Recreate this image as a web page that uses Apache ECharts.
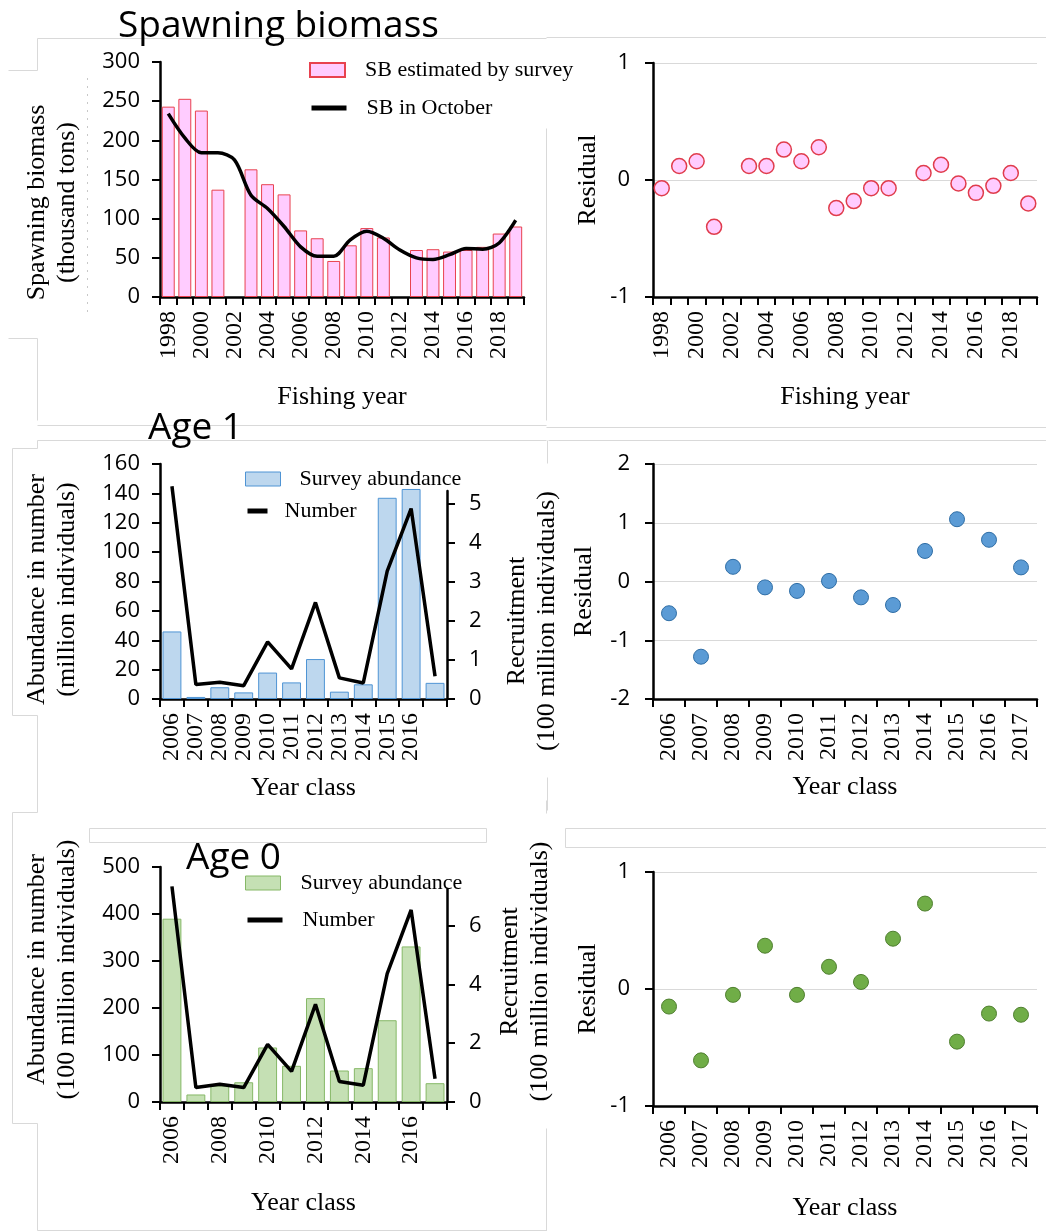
<!DOCTYPE html>
<html>
<head>
<meta charset="utf-8">
<title>Spawning biomass and recruitment indices</title>
<script src="https://cdn.jsdelivr.net/npm/echarts@6/dist/echarts.min.js"></script>
<style>
  html, body { margin: 0; padding: 0; background: #fff; }
  #chart { width: 1046px; height: 1231px; }
</style>
</head>
<body>
<div id="chart"></div>
<script>
// ---- data -------------------------------------------------------------
const fishingYears = ['1998','1999','2000','2001','2002','2003','2004','2005','2006','2007','2008',
  '2009','2010','2011','2012','2013','2014','2015','2016','2017','2018','2019'];
// spawning biomass (thousand tons)
const sbSurvey = [243, 253, 238, 137, null, 163, 144, 131, 85, 75, 46,
  66, 88, 76, null, 60, 61, 58, 60, 64, 81, 90];
const sbOctober = [234, 203, 184, 184, 175, 130, 113, 90, 64, 52, 52,
  73, 84, 75, 60, 50, 48, 54, 62, 61, 69, 98];
const sbResidual = [-0.07, 0.12, 0.16, -0.40, null, 0.12, 0.12, 0.26, 0.16, 0.28, -0.24,
  -0.18, -0.07, -0.07, null, 0.06, 0.13, -0.03, -0.11, -0.05, 0.06, -0.20];

const yearClasses = ['2006','2007','2008','2009','2010','2011','2012','2013','2014','2015','2016','2017'];
const age1TickLabels = ['2006','2007','2008','2009','2010','2011','2012','2013','2014','2015','2016',''];
// age 1: survey abundance (million individuals), recruitment (100 million individuals)
const age1Survey = [46, 1.4, 8, 4.5, 18, 11.3, 27.2, 5, 10, 137, 143, 11];
const age1Number = [5.44, 0.37, 0.43, 0.34, 1.46, 0.77, 2.47, 0.54, 0.41, 3.27, 4.87, 0.58];
const age1Residual = [-0.54, -1.28, 0.25, -0.10, -0.16, 0.01, -0.27, -0.40, 0.52, 1.06, 0.71, 0.24];
// age 0: survey abundance and recruitment (100 million individuals)
const age0Survey = [390, 16, 35, 42, 116, 77, 221, 67, 72, 174, 331, 40];
const age0Number = [7.33, 0.49, 0.60, 0.49, 1.96, 1.04, 3.32, 0.70, 0.57, 4.36, 6.53, 0.79];
const age0Residual = [-0.15, -0.61, -0.05, 0.37, -0.05, 0.19, 0.06, 0.43, 0.73, -0.45, -0.21, -0.22];

// ---- styling helpers ----------------------------------------------------
const SANS = "'Open Sans', 'Noto Sans', sans-serif";
const SERIF = "'Liberation Serif', 'DejaVu Serif', serif";
const AXIS = { show: true, lineStyle: { color: '#000', width: 2.5 } };
const TICK = { show: true, length: 8, lineStyle: { color: '#000', width: 2 } };
const NAME_STYLE = (pad) => ({ fontFamily: SERIF, fontSize: 26, color: '#000', lineHeight: 30, padding: pad });
const TICK_LABEL = (margin) => ({ margin: margin, fontFamily: SANS, fontSize: 22, color: '#000' });

function catAxis(grid, data, labelInterval, nameText, gap) {
  return {
    type: 'category', gridIndex: grid, data: data, boundaryGap: true,
    axisLine: Object.assign({ onZero: false }, AXIS),
    axisTick: Object.assign({ interval: 0, alignWithLabel: false }, TICK),
    axisLabel: { interval: labelInterval, rotate: 90, margin: 14, fontFamily: SERIF, fontSize: 24, color: '#000' },
    name: nameText, nameLocation: 'middle', nameGap: gap,
    nameTextStyle: { fontFamily: SERIF, fontSize: 26, color: '#000' }
  };
}
function hiddenCat(grid, data) {
  return { type: 'category', gridIndex: grid, data: data, boundaryGap: true, show: false };
}
function valAxis(grid, min, max, interval, nameText, gap, pad, opts) {
  return Object.assign({
    type: 'value', gridIndex: grid, min: min, max: max, interval: interval,
    axisLine: AXIS, axisTick: TICK,
    axisLabel: TICK_LABEL(20),
    splitLine: { show: false },
    name: nameText, nameLocation: 'middle', nameRotate: 90, nameGap: gap,
    nameTextStyle: NAME_STYLE(pad)
  }, opts || {});
}
const residualGrid = { show: true, lineStyle: { color: '#d9d9d9', width: 1 } };

// faint outlines of the slide's chart boxes
const frame = [
  [37, 38, 546, 38], [8, 70, 37, 70], [37, 38, 37, 70], [8, 338, 37, 338], [37, 338, 37, 420],
  [546, 128, 546, 420], [546, 37, 1046, 37],
  [37, 425, 546, 425], [37, 440, 546, 440], [546, 427, 1046, 427], [548, 440, 1046, 440],
  [12, 448, 12, 715], [12, 448, 37, 448], [12, 715, 37, 715], [37, 440, 37, 448], [37, 715, 37, 810],
  [547, 440, 547, 463], [547, 777, 547, 810],
  [12, 812, 12, 1123], [12, 812, 37, 812], [12, 1123, 37, 1123], [37, 800, 37, 812], [37, 1123, 37, 1230],
  [37, 1230, 546, 1230], [546, 800, 546, 813], [546, 1128, 546, 1231]
].map(s => ({
  type: 'line', silent: true, z: -10,
  shape: { x1: s[0] + 0.5, y1: s[1] + 0.5, x2: s[2] + 0.5, y2: s[3] + 0.5 },
  style: { stroke: '#d9d9d9', lineWidth: 1 }
}));
frame.push(
  { type: 'rect', silent: true, z: -10, shape: { x: 89.5, y: 828.5, width: 397, height: 14 },
    style: { fill: 'none', stroke: '#d9d9d9', lineWidth: 1 } },
  { type: 'rect', silent: true, z: -10, shape: { x: 565.5, y: 828.5, width: 490, height: 19 },
    style: { fill: 'none', stroke: '#d9d9d9', lineWidth: 1 } },
  { type: 'line', silent: true, z: -10, shape: { x1: 87.5, y1: 78, x2: 87.5, y2: 313 },
    style: { stroke: '#c8c8c8', lineWidth: 1, lineDash: [2, 6] } }
);

const legendText = (pad) => ({ fontFamily: SERIF, fontSize: 22, color: '#000', padding: [0, 0, 0, pad] });
// line legend entries: plain thick stroke, no marker
const lineEntry = (name) => ({ name: name, lineStyle: { width: 5, color: '#000' }, itemStyle: { opacity: 0 } });

const option = {
  animation: false,
  backgroundColor: '#fff',
  title: [
    { text: 'Spawning biomass', left: 118, top: 8, padding: 0,
      textStyle: { fontFamily: SANS, fontSize: 37, fontWeight: 'normal', color: '#000' } },
    { text: 'Age 1', left: 148, top: 410, padding: 0,
      textStyle: { fontFamily: SANS, fontSize: 37, fontWeight: 'normal', color: '#000' } },
    { text: 'Age 0', left: 186, top: 840, padding: 0,
      textStyle: { fontFamily: SANS, fontSize: 37, fontWeight: 'normal', color: '#000' } }
  ],
  legend: [
    { left: 309, top: 59, padding: 0, itemWidth: 35, itemHeight: 14,
      data: [{ name: 'SB estimated by survey', icon: 'rect' }], textStyle: legendText(15) },
    { left: 309, top: 97, padding: 0, itemWidth: 35, itemHeight: 14,
      data: [lineEntry('SB in October')], textStyle: legendText(15) },
    { left: 245, top: 468, padding: 0, itemWidth: 35, itemHeight: 14,
      data: [{ name: 'Survey abundance', icon: 'rect',
        itemStyle: { color: '#bdd7ee', borderColor: '#4f94d4', borderWidth: 1 } }], textStyle: legendText(14) },
    { left: 245, top: 500, padding: 0, itemWidth: 20, itemHeight: 14,
      data: [lineEntry('Number')], textStyle: legendText(12) },
    { left: 245, top: 872, padding: 0, itemWidth: 35, itemHeight: 14,
      data: [{ name: 'Survey abundance', icon: 'rect',
        itemStyle: { color: '#c5e0b4', borderColor: '#86b867', borderWidth: 1 } }], textStyle: legendText(15) },
    { left: 245, top: 909, padding: 0, itemWidth: 35, itemHeight: 14,
      data: [lineEntry('Number')], textStyle: legendText(15) }
  ],
  grid: [
    { left: 160, top: 62, width: 364, height: 235 },   // 0 spawning biomass
    { left: 653, top: 63, width: 384, height: 234 },   // 1 SB residual
    { left: 160, top: 464, width: 287, height: 235 },  // 2 age 1 survey
    { left: 160, top: 491, width: 287, height: 208 },  // 3 age 1 recruitment
    { left: 653, top: 464, width: 384, height: 235 },  // 4 age 1 residual
    { left: 160, top: 867, width: 287, height: 235 },  // 5 age 0 survey
    { left: 160, top: 889, width: 287, height: 213 },  // 6 age 0 recruitment
    { left: 653, top: 872, width: 384, height: 234 }   // 7 age 0 residual
  ],
  xAxis: [
    catAxis(0, fishingYears, 1, 'Fishing year', 87),
    catAxis(1, fishingYears, 1, 'Fishing year', 87),
    catAxis(2, age1TickLabels, 0, 'Year class', 76),
    hiddenCat(3, yearClasses),
    catAxis(4, yearClasses, 0, 'Year class', 75),
    catAxis(5, yearClasses, 1, 'Year class', 88),
    hiddenCat(6, yearClasses),
    catAxis(7, yearClasses, 0, 'Year class', 89)
  ],
  yAxis: [
    valAxis(0, 0, 300, 50, 'Spawning biomass\n(thousand tons)', 78, [0, 46, 0, 0]),
    valAxis(1, -1, 1, 1, 'Residual', 50, [0, 0, 0, 0], { splitLine: residualGrid, axisLabel: TICK_LABEL(23) }),
    valAxis(2, 0, 160, 20, 'Abundance in number\n(million individuals)', 78, [0, 16, 0, 0]),
    valAxis(3, 0, 5.32, 1, 'Recruitment\n(100 million individuals)', 55, [0, 52, 0, 0], {
      position: 'right',
      axisTick: Object.assign({ customValues: [0, 1, 2, 3, 4, 5] }, TICK),
      axisLabel: Object.assign({ customValues: [0, 1, 2, 3, 4, 5] }, TICK_LABEL(22))
    }),
    valAxis(4, -2, 2, 1, 'Residual', 54, [0, 20, 0, 0], { splitLine: residualGrid, axisLabel: TICK_LABEL(23) }),
    valAxis(5, 0, 500, 100, 'Abundance in number\n(100 million individuals)', 78, [0, 0, 0, 30]),
    valAxis(6, 0, 7.24, 2, 'Recruitment\n(100 million individuals)', 48, [0, 0, 0, 48], {
      position: 'right',
      axisTick: Object.assign({ customValues: [0, 2, 4, 6] }, TICK),
      axisLabel: Object.assign({ customValues: [0, 2, 4, 6] }, TICK_LABEL(22))
    }),
    valAxis(7, -1, 1, 1, 'Residual', 50, [0, 0, 0, 0], { splitLine: residualGrid, axisLabel: TICK_LABEL(23) })
  ],
  series: [
    { type: 'bar', name: 'SB estimated by survey', xAxisIndex: 0, yAxisIndex: 0, data: sbSurvey,
      barCategoryGap: '22%', itemStyle: { color: '#ffccff', borderColor: '#e8424f', borderWidth: 1 } },
    { type: 'line', name: 'SB in October', xAxisIndex: 0, yAxisIndex: 0, data: sbOctober,
      smooth: 0.3, symbol: 'none', lineStyle: { color: '#000', width: 3.5 }, itemStyle: { color: '#000' } },
    { type: 'scatter', name: 'SB residual', xAxisIndex: 1, yAxisIndex: 1, data: sbResidual,
      symbolSize: 15, itemStyle: { color: '#ffccff', borderColor: '#e03c4c', borderWidth: 1.5, opacity: 1 } },

    { type: 'bar', name: 'Survey abundance', xAxisIndex: 2, yAxisIndex: 2, data: age1Survey,
      barCategoryGap: '21%', itemStyle: { color: '#bdd7ee', borderColor: '#4f94d4', borderWidth: 1 } },
    { type: 'line', name: 'Number', xAxisIndex: 3, yAxisIndex: 3, data: age1Number, clip: false,
      symbol: 'none', lineStyle: { color: '#000', width: 3.5 }, itemStyle: { color: '#000' } },
    { type: 'scatter', name: 'Age 1 residual', xAxisIndex: 4, yAxisIndex: 4, data: age1Residual,
      symbolSize: 15, itemStyle: { color: '#5b9bd5', borderColor: '#2f6ea6', borderWidth: 1, opacity: 1 } },

    { type: 'bar', name: 'Survey abundance', xAxisIndex: 5, yAxisIndex: 5, data: age0Survey,
      barCategoryGap: '21%', itemStyle: { color: '#c5e0b4', borderColor: '#86b867', borderWidth: 1 } },
    { type: 'line', name: 'Number', xAxisIndex: 6, yAxisIndex: 6, data: age0Number, clip: false,
      symbol: 'none', lineStyle: { color: '#000', width: 3.5 }, itemStyle: { color: '#000' } },
    { type: 'scatter', name: 'Age 0 residual', xAxisIndex: 7, yAxisIndex: 7, data: age0Residual,
      symbolSize: 15, itemStyle: { color: '#70ad47', borderColor: '#4f7f2f', borderWidth: 1, opacity: 1 } }
  ],
  graphic: frame
};

const chart = echarts.init(document.getElementById('chart'), null, { renderer: 'canvas' });
chart.setOption(option);
</script>
</body>
</html>
